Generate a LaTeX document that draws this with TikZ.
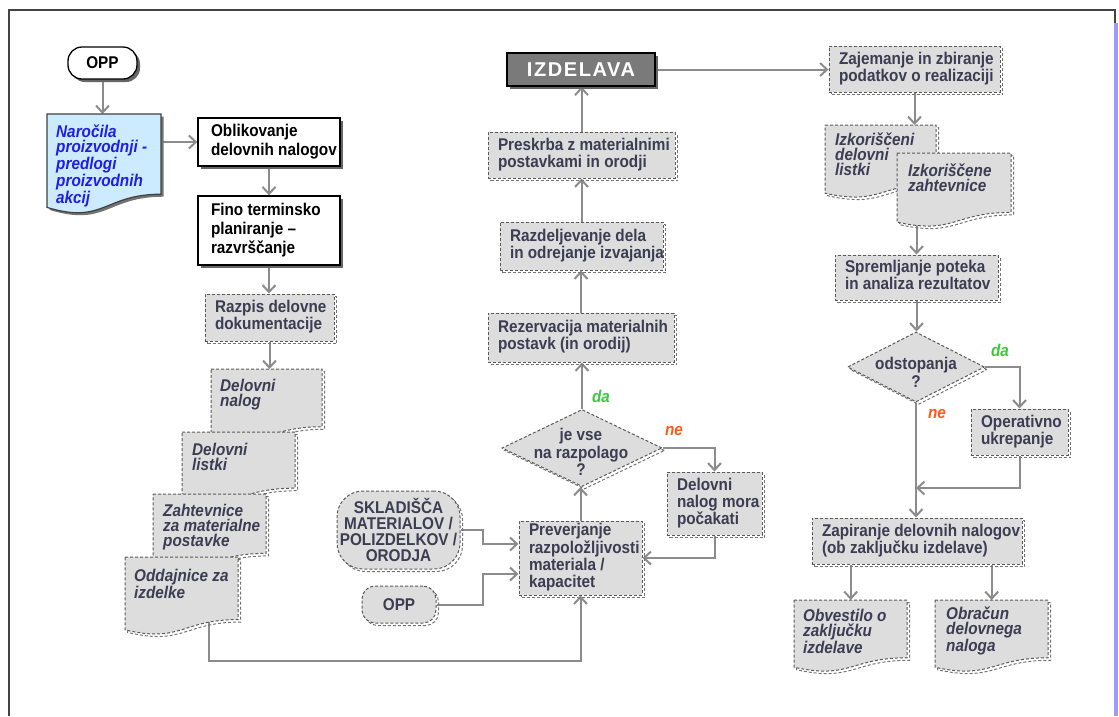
\documentclass[tikz,border=0pt]{standalone}
\usepackage{fontspec}
\setmainfont{Liberation Sans}[FakeStretch=0.9]
\newfontfamily\titlefont{Liberation Sans}[LetterSpace=8]
\usetikzlibrary{arrows.meta,shapes.geometric,shadows,calc}

\definecolor{boxgray}{HTML}{DDDDDD}
\definecolor{edge}{HTML}{5A5A5A}
\definecolor{wire}{HTML}{8C8C8C}
\definecolor{ink}{HTML}{3C3C52}
\definecolor{docblue}{HTML}{CCEBFF}
\definecolor{bluetext}{HTML}{1E1EE6}
\definecolor{yesgreen}{HTML}{3CC83C}
\definecolor{noorange}{HTML}{FF5A1E}
\definecolor{frameline}{HTML}{444444}
\definecolor{edgeblue}{HTML}{9B9BFF}
\definecolor{izdgray}{HTML}{7A7A7A}

\pgfdeclarelayer{bg}
\pgfsetlayers{bg,main}

\tikzset{
  txt/.style={font=\fontsize{17}{15.5}\selectfont\bfseries, text=ink},
  dashline/.style={draw=edge, line width=1pt, dash pattern=on 3pt off 2pt},
  dshadow/.style={general shadow={shadow xshift=2.5pt, shadow yshift=-2.5pt, draw=edge!85, line width=1pt, dash pattern=on 3pt off 2pt}},
  greybox/.style={txt, dashline, fill=boxgray, dshadow, inner xsep=0pt, inner ysep=0pt, align=left},
  solidshadow/.style={general shadow={shadow xshift=3pt, shadow yshift=-3pt, fill=black!60}},
  whitebox/.style={draw=black, line width=1.3pt, fill=white, solidshadow, font=\fontsize{17}{19}\selectfont\bfseries, text=black, inner xsep=0pt, inner ysep=0pt},
  wire/.style={draw=wire, line width=2pt, -{Straight Barb[length=7pt,width=13pt]}},
  doctext/.style={font=\fontsize{17}{15}\selectfont\bfseries\itshape, text=ink, align=left, inner sep=0pt, anchor=north west},
  greydoc/.style={dashline, fill=boxgray, dshadow},
  bluedoc/.style={draw=black!75, line width=1.2pt, fill=docblue, general shadow={shadow xshift=2.5pt, shadow yshift=-2.5pt, fill=black!55}},
  answer/.style={font=\fontsize{17}{17}\selectfont\bfseries\itshape, inner sep=0pt},
}

% left-aligned block of fixed lines, padded inside a box of given width
\newcommand\linesleft[2]{\makebox[#1pt][l]{\begin{tabular}{@{}l@{}}#2\end{tabular}}}

% dashed grey process box: name, x1, y1, x2, y2, text
\newcommand\gbox[6]{%
  \pgfmathsetmacro\bw{#4-#2}\pgfmathsetmacro\bh{#5-#3}\pgfmathsetmacro\tw{#4-#2-20}%
  \node[greybox, minimum width=\bw pt, minimum height=\bh pt]
    (#1) at ({(#2+#4)/2},{(#3+#5)/2}) {\linesleft{\tw}{#6}};}
% solid white process box
\newcommand\wbox[6]{%
  \pgfmathsetmacro\bw{#4-#2}\pgfmathsetmacro\bh{#5-#3}\pgfmathsetmacro\tw{#4-#2-26}%
  \node[whitebox, minimum width=\bw pt, minimum height=\bh pt]
    (#1) at ({(#2+#4)/2},{(#3+#5)/2}) {\linesleft{\tw}{#6}};}
% document sheet with wavy lower edge: name, x1, y1, x2, h, style
\newcommand\docpage[6]{%
  \pgfmathsetmacro\xm{(#2+#4)/2}\pgfmathsetmacro\ya{#3+0.802*#5}%
  \pgfmathsetmacro\yb{#3+1.107*#5}\pgfmathsetmacro\yc{#3+0.934*#5}%
  \pgfmathsetmacro\bw{#4-#2}\pgfmathsetmacro\bh{0.934*#5}%
  \path[#6] (#2,#3) -- (#4,#3) -- (#4,\ya) .. controls (\xm,\ya) and (\xm,\yb) .. (#2,\yc) -- cycle;
  \node[inner sep=0pt, minimum width=\bw pt, minimum height=\bh pt, anchor=north west] (#1) at (#2,#3) {};}

\begin{document}
\begin{tikzpicture}[x=1pt,y=-1pt]
\useasboundingbox (0,0) rectangle (1119,716);

% page frame
\draw[frameline, line width=2pt] (8.5,716) -- (8.5,10) -- (1115,10) -- (1115,23);
\draw[edgeblue, line width=4pt] (1116,23) -- (1116,716);

% ---------- left column ----------
\node[draw=black, line width=1.3pt, fill=white, rounded corners=14pt, solidshadow,
      minimum width=69pt, minimum height=32pt, inner sep=0pt,
      font=\fontsize{17}{17}\selectfont\bfseries] (opptop) at (102.5,63) {OPP};

\docpage{nar}{47}{114}{161}{100}{bluedoc}
\node[doctext, text=bluetext] (nartxt) at (56,125) {Naročila\\proizvodnji -\\predlogi\\proizvodnih\\akcij};

\wbox{obl}{198}{118}{340}{166}{Oblikovanje\\delovnih nalogov}
\wbox{fino}{198}{196}{340}{265}{Fino terminsko\\planiranje –\\razvrščanje}
\gbox{razpis}{205}{294}{334}{341}{Razpis delovne\\dokumentacije}

\docpage{dnalog}{211}{369}{322}{72}{greydoc}
\node[doctext] (dnalogtxt) at (220,379) {Delovni\\nalog};
\docpage{dlist}{182}{432}{295}{70}{greydoc}
\node[doctext] (dlisttxt) at (192,443) {Delovni\\listki};
\docpage{zaht}{153}{494}{266}{74}{greydoc}
\node[doctext] (zahttxt) at (163,504) {Zahtevnice\\za materialne\\postavke};
\docpage{oddaj}{125}{557}{238}{78}{greydoc}
\node[doctext] (oddajtxt) at (134,569) {Oddajnice za\\izdelke};

% ---------- middle column ----------
\node[draw=black, line width=1.3pt, fill=izdgray, solidshadow, minimum width=148pt,
      minimum height=33pt, inner sep=0pt, text=white,
      font=\titlefont\fontsize{20}{20}\selectfont\bfseries] (izd) at (581,69.5) {IZDELAVA};
\gbox{presk}{488}{132}{675}{178}{Preskrba z materialnimi\\postavkami in orodji}
\gbox{razd}{500}{222}{663}{270}{Razdeljevanje dela\\in odrejanje izvajanja}
\gbox{rez}{488}{313}{674}{362}{Rezervacija materialnih\\postavk (in orodij)}

\node[diamond, dashline, fill=boxgray, dshadow, minimum width=160pt, minimum height=77pt,
      inner sep=0pt] (dia1) at (582,448) {};
\node[font=\fontsize{17}{17.5}\selectfont\bfseries, text=ink, align=center, inner sep=0pt]
      (dia1txt) at (581,452) {je vse\\na razpolago\\?};

\gbox{wait}{667}{472}{762}{535}{Delovni\\nalog mora\\počakati}
\node[greybox, font=\fontsize{17}{16}\selectfont\bfseries, minimum width=123pt,
      minimum height=74pt] (prev) at (580.5,558)
      {\linesleft{103}{Preverjanje\\razpoložljivosti\\materiala /\\kapacitet}};

\node[greybox, rounded corners=26pt, align=center, minimum width=123pt, minimum height=78pt,
      font=\fontsize{17}{16}\selectfont\bfseries] (skl) at (398.5,530)
      {SKLADIŠČA\\MATERIALOV /\\POLIZDELKOV /\\ORODJA};
\node[greybox, rounded corners=13pt, align=center, minimum width=74pt, minimum height=37pt,
      font=\fontsize{17}{17}\selectfont\bfseries] (oppbot) at (399,604.5) {OPP};

\node[answer, text=yesgreen] (yes1) at (601,396) {da};
\node[answer, text=noorange] (no1) at (674,431) {ne};

% ---------- right column ----------
\gbox{zaj}{829}{46}{1000}{92}{Zajemanje in zbiranje\\podatkov o realizaciji}
\docpage{izl}{825}{125}{936}{73}{greydoc}
\node[doctext] (izltxt) at (835,133) {Izkoriščeni\\delovni\\listki};
\docpage{izz}{897}{153}{1011}{74}{greydoc}
\node[doctext] (izztxt) at (908,164) {Izkoriščene\\zahtevnice};
\gbox{spr}{835}{255}{998}{300}{Spremljanje poteka\\in analiza rezultatov}

\node[diamond, dashline, fill=boxgray, dshadow, minimum width=137pt, minimum height=70pt,
      inner sep=0pt] (dia2) at (916,367) {};
\node[font=\fontsize{17}{18}\selectfont\bfseries, text=ink, align=center, inner sep=0pt]
      (dia2txt) at (916,372) {odstopanja\\?};

\gbox{oper}{971}{409}{1068}{455}{Operativno\\ukrepanje}
\gbox{zap}{812}{518}{1022}{564}{Zapiranje delovnih nalogov\\(ob zaključku izdelave)}
\docpage{obv}{794}{600}{907}{72}{greydoc}
\node[doctext] (obvtxt) at (803,609) {Obvestilo o\\zaključku\\izdelave};
\docpage{obr}{935}{600}{1048}{72}{greydoc}
\node[doctext] (obrtxt) at (946,607) {Obračun\\delovnega\\naloga};

\node[answer, text=yesgreen] (yes2) at (1000,350) {da};
\node[answer, text=noorange] (no2) at (937,414) {ne};

% ---------- connectors ----------
\begin{pgfonlayer}{bg}
\draw[wire] (opptop.south) -- (opptop.south |- nar.north);
\draw[wire] (nar.east |- obl.west) -- (obl.west);
\draw[wire] (obl.south) -- (obl.south |- fino.north);
\draw[wire] (fino.south) -- (fino.south |- razpis.north);
\draw[wire] (razpis.south) -- (razpis.south |- dnalog.north);
\coordinate (oddout) at ($(oddaj.south west)!0.74!(oddaj.south east) + (0,-15)$);
\draw[wire] (oddout) -- (oddout |- 0,661) -| (prev.south);
\draw[wire] (prev.north) -- (prev.north |- dia1.south);
\draw[wire] (dia1.north) -- (dia1.north |- rez.south);
\draw[wire] (rez.north) -- (rez.north |- razd.south);
\draw[wire] (razd.north) -- (razd.north |- presk.south);
\draw[wire] (presk.north) -- (presk.north |- izd.south);
\draw[wire] (izd.east) -- (izd.east -| zaj.west);
\draw[wire] (dia1.east) -| (wait.north);
\draw[wire] (wait.south) |- (prev.east);
\draw[wire] (skl.east) -- ++(22,0) |- ($(prev.west)+(0,-14)$);
\draw[wire] (oppbot.east) -- ++(46,0) |- ($(prev.west)+(0,16)$);
\draw[wire] (zaj.south) -- (zaj.south |- izl.north);
\draw[wire] (spr.north |- izz.south) -- (spr.north);
\draw[wire] (spr.south) -- (spr.south |- dia2.north);
\draw[wire] (dia2.east) -| (oper.north);
\draw[wire] (dia2.south) -- (dia2.south |- zap.north);
\coordinate (merge) at (dia2.south |- 0,488);
\draw[wire] (oper.south) |- (merge);
\draw[wire] (obv.north |- zap.south) -- (obv.north);
\draw[wire] (obr.north |- zap.south) -- (obr.north);
\end{pgfonlayer}
\end{tikzpicture}
\end{document}
